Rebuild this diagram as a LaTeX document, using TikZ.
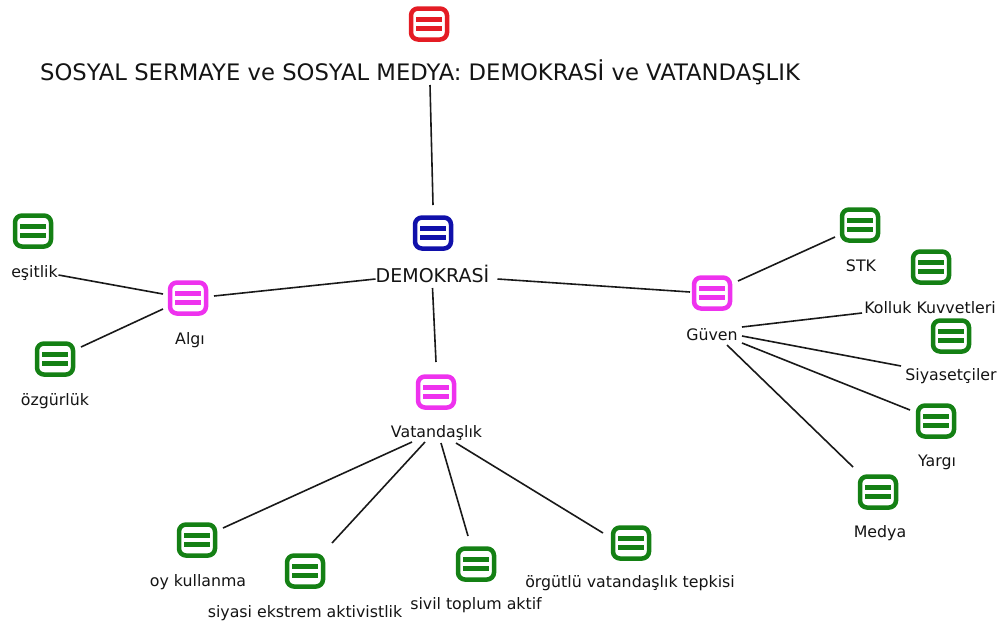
\documentclass[tikz,border=0pt]{standalone}
\usepackage{fontspec}
\setmainfont{DejaVu Sans}
\definecolor{icred}{RGB}{228,28,36}
\definecolor{icblue}{RGB}{16,16,170}
\definecolor{icmag}{RGB}{238,50,238}
\definecolor{icgreen}{RGB}{20,128,20}
\definecolor{txt}{RGB}{20,20,20}
\begin{document}
\begin{tikzpicture}[x=1pt,y=-1pt,
  icon/.style={draw=#1, line width=4.5pt, rounded corners=7pt, fill=white,
    minimum width=36pt, minimum height=31pt, inner sep=0pt,
    path picture={
      \fill[#1, sharp corners] ([xshift=-13pt,yshift=2.3pt]path picture bounding box.center) rectangle ([xshift=13pt,yshift=7.3pt]path picture bounding box.center);
      \fill[#1, sharp corners] ([xshift=-13pt,yshift=-2.3pt]path picture bounding box.center) rectangle ([xshift=13pt,yshift=-7.3pt]path picture bounding box.center);
    }},
  lbl/.style={font=\fontsize{15.8}{18}\selectfont, text=txt, inner sep=0pt, anchor=base},
  conn/.style={draw=black!90, line width=1.6pt}]
\useasboundingbox (0,0) rectangle (1000,622);

% icons
\node[icon=icred] (ti) at (429,24) {};
\node[icon=icblue] (dem) at (433,233) {};
\node[icon=icmag] (algi) at (188,298) {};
\node[icon=icmag] (guv) at (712,293) {};
\node[icon=icmag] (vat) at (436,392) {};
\node[icon=icgreen] (esit) at (33,231) {};
\node[icon=icgreen] (oz) at (55,359) {};
\node[icon=icgreen] (stk) at (860,225) {};
\node[icon=icgreen] (kol) at (931,267) {};
\node[icon=icgreen] (siy) at (951,336) {};
\node[icon=icgreen] (yar) at (936,421) {};
\node[icon=icgreen] (med) at (878,492) {};
\node[icon=icgreen] (oy) at (197,540) {};
\node[icon=icgreen] (eks) at (305,571) {};
\node[icon=icgreen] (siv) at (476,564) {};
\node[icon=icgreen] (org) at (631,543) {};

% labels
\node[lbl, font=\fontsize{22.7}{26}\selectfont] (title) at (420,80) {SOSYAL SERMAYE ve SOSYAL MEDYA: DEMOKRASİ ve VATANDAŞLIK};
\node[lbl, font=\fontsize{19}{22}\selectfont] (demt) at (432.5,282) {DEMOKRASİ};
\node[lbl] (algit) at (190,344) {Algı};
\node[lbl] (guvt) at (712,340) {Güven};
\node[lbl] (vatt) at (436.5,437) {Vatandaşlık};
\node[lbl] (esitt) at (34.5,277) {eşitlik};
\node[lbl] (ozt) at (55,405) {özgürlük};
\node[lbl] (stkt) at (861,271) {STK};
\node[lbl] (kolt) at (930,313) {Kolluk Kuvvetleri};
\node[lbl] (siyt) at (951,380) {Siyasetçiler};
\node[lbl] (yart) at (937,466) {Yargı};
\node[lbl] (medt) at (880,537) {Medya};
\node[lbl] (oyt) at (198,586) {oy kullanma};
\node[lbl] (ekst) at (305,617) {siyasi ekstrem aktivistlik};
\node[lbl] (sivt) at (476,609) {sivil toplum aktif};
\node[lbl] (orgt) at (630,587) {örgütlü vatandaşlık tepkisi};

% connectors
\draw[conn] ([shift={(10,5)}]title.base) -- ([shift={(0,-28)}]dem.center);
\draw[conn] ([shift={(-57,-3)}]demt.base) -- ([shift={(26,-2)}]algi.center);
\draw[conn] ([shift={(65,-3)}]demt.base) -- ([shift={(-22,-1)}]guv.center);
\draw[conn] ([shift={(0,6)}]demt.base) -- ([shift={(0,-30)}]vat.center);
\draw[conn] ([shift={(24,-2)}]esitt.base) -- ([shift={(-25,-4)}]algi.center);
\draw[conn] ([shift={(26,-12)}]oz.center) -- ([shift={(-25,11)}]algi.center);
\draw[conn] ([shift={(26,-12)}]guv.center) -- ([shift={(-25,12)}]stk.center);
\draw[conn] ([shift={(30,-13)}]guvt.base) -- ([shift={(-68,0)}]kolt.base);
\draw[conn] ([shift={(30,-4)}]guvt.base) -- ([shift={(-50,-14)}]siyt.base);
\draw[conn] ([shift={(30,3)}]guvt.base) -- ([shift={(-26,-11)}]yar.center);
\draw[conn] ([shift={(15,5)}]guvt.base) -- ([shift={(-25,-25)}]med.center);
\draw[conn] ([shift={(-24.5,5)}]vatt.base) -- ([shift={(26,-12)}]oy.center);
\draw[conn] ([shift={(-11.5,5)}]vatt.base) -- ([shift={(27,-28)}]eks.center);
\draw[conn] ([shift={(4.5,6)}]vatt.base) -- ([shift={(-8,-28)}]siv.center);
\draw[conn] ([shift={(19.5,6)}]vatt.base) -- ([shift={(-28,-10)}]org.center);
\end{tikzpicture}
\end{document}
